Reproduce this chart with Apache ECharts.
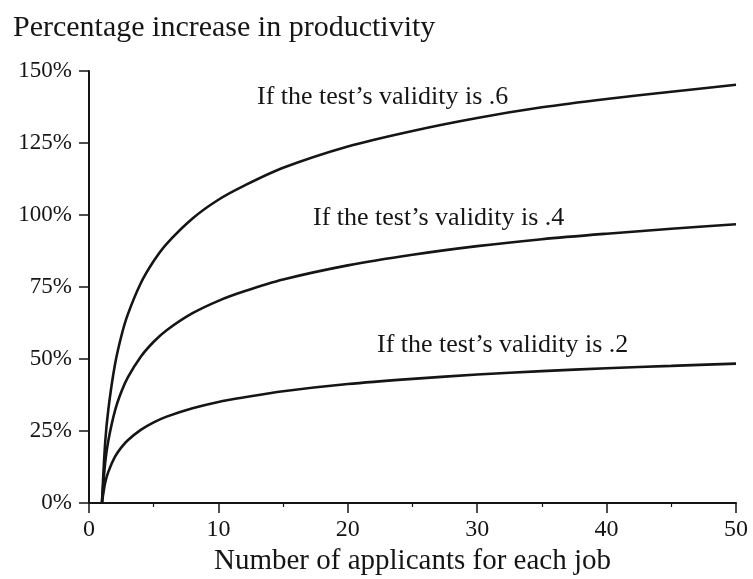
<!DOCTYPE html>
<html>
<head>
<meta charset="utf-8">
<script src="https://cdn.jsdelivr.net/npm/echarts@6/dist/echarts.min.js"></script>
<style>
  html, body { margin: 0; padding: 0; background: #fff; }
  #chart { width: 753px; height: 579px; }
</style>
</head>
<body>
<div id="chart"></div>
<script>
// number of applicants for each job
var applicants = [1, 1.25, 1.5, 2, 2.5, 3, 4, 5, 6, 8, 10, 12, 15, 20, 25, 30, 35, 40, 45, 50];
// percentage increase in productivity
var validity6 = [0, 21, 32.7, 47.9, 58, 65.5, 76.3, 84, 90, 98.8, 105.3, 110.2, 116.4, 123.8, 129.2, 133.7, 137.4, 140.3, 142.8, 145.2];
var validity4 = [0, 14, 21.8, 31.9, 38.6, 43.6, 50.8, 56, 60, 65.9, 70.2, 73.5, 77.6, 82.5, 86.2, 89.2, 91.6, 93.5, 95.2, 96.8];
var validity2 = [0, 7, 10.9, 16, 19.3, 21.8, 25.4, 28, 30, 32.9, 35.1, 36.7, 38.8, 41.3, 43.1, 44.6, 45.8, 46.8, 47.6, 48.4];
var curveLabels = ["If the test\u2019s validity is .6", "If the test\u2019s validity is .4", "If the test\u2019s validity is .2"];

var serif = "'Liberation Serif', 'Times New Roman', serif";
var ink = '#151515';

function pairs(ys) {
  return applicants.map(function (x, i) { return [x, ys[i]]; });
}

function curve(name, ys) {
  return {
    name: name,
    type: 'line',
    data: pairs(ys),
    smooth: 0.3,
    symbol: 'none',
    lineStyle: { color: ink, width: 2.6 }
  };
}

var myChart = echarts.init(document.getElementById('chart'));

var option = {
  backgroundColor: '#fff',
  animation: false,
  title: {
    text: 'Percentage increase in productivity',
    left: 8,
    top: 8,
    textStyle: { fontFamily: serif, fontWeight: 'normal', fontSize: 30, color: ink }
  },
  grid: { left: 89, right: 17, top: 71, bottom: 76, outerBoundsMode: 'none' },
  xAxis: {
    type: 'value',
    min: 0,
    max: 50,
    interval: 10,
    name: 'Number of applicants for each job',
    nameLocation: 'middle',
    nameGap: 37,
    nameTextStyle: { fontFamily: serif, fontSize: 29, color: ink },
    axisLine: { lineStyle: { color: ink, width: 2 } },
    axisTick: { length: 10, lineStyle: { color: ink, width: 1.5 } },
    minorTick: { show: true, splitNumber: 2, length: 4, lineStyle: { color: ink, width: 1.2 } },
    axisLabel: { fontFamily: serif, fontSize: 24, color: ink, margin: 15 },
    splitLine: { show: false }
  },
  yAxis: {
    type: 'value',
    min: 0,
    max: 150,
    interval: 25,
    axisLine: { show: true, lineStyle: { color: ink, width: 2 } },
    axisTick: { show: true, length: 10, lineStyle: { color: ink, width: 1.5 } },
    axisLabel: { fontFamily: serif, fontSize: 23, color: ink, margin: 17, formatter: '{value}%' },
    splitLine: { show: false }
  },
  graphic: [
    { type: 'text', left: 257, top: 84, style: { text: curveLabels[0], font: '26px ' + serif, fill: ink } },
    { type: 'text', left: 313, top: 205, style: { text: curveLabels[1], font: '26px ' + serif, fill: ink } },
    { type: 'text', left: 377, top: 332, style: { text: curveLabels[2], font: '26px ' + serif, fill: ink } }
  ],
  series: [
    curve('.6', validity6),
    curve('.4', validity4),
    curve('.2', validity2)
  ]
};

myChart.setOption(option);
</script>
</body>
</html>
